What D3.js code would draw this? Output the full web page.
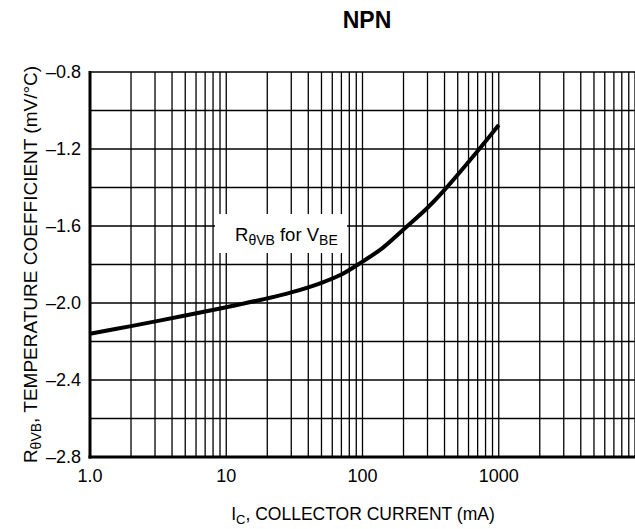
<!DOCTYPE html>
<html>
<head>
<meta charset="utf-8">
<script src="https://cdn.jsdelivr.net/npm/d3@7"></script>
<style>
  body { margin: 0; background: #fff; }
  svg text { font-family: 'Liberation Sans', Arial, sans-serif; fill: #000; }
</style>
</head>
<body>
<svg id="chart" width="635" height="529"></svg>
<script>
// values
const currentMa = [1, 2, 5, 10, 20, 30, 50, 70, 100, 140, 200, 300, 400, 700, 1000];
const tempCoeff = [-2.16, -2.12, -2.065, -2.022, -1.976, -1.945, -1.895, -1.852, -1.785, -1.715, -1.618, -1.505, -1.412, -1.21, -1.075];
const xTickValues = [1, 10, 100, 1000];
const xTickLabels = ['1.0', '10', '100', '1000'];
const yTickValues = [-2.8, -2.4, -2.0, -1.6, -1.2, -0.8];

const svg = d3.select('#chart');
const plotLeft = 90, plotRight = 635, plotTop = 72, plotBottom = 457;

let scaleX = d3.scaleLog().domain([1, 10000]).range([plotLeft, plotRight]);
let scaleY = d3.scaleLinear().domain([-2.8, -0.8]).range([plotBottom, plotTop]);

// grid: every 1..9 per decade, and every 0.2 vertically
let xGrid = [];
for (let dec = 1; dec < 10000; dec *= 10) {
  for (let m = 1; m < 10; m++) xGrid.push(dec * m);
}
xGrid.push(10000);
let yGrid = d3.range(0, 11).map(i => -2.8 + i * 0.2);

let grid = svg.append('g').attr('class', 'grid');
grid.selectAll('.vline')
  .data(xGrid)
  .enter().append('line')
  .attr('class', 'vline')
  .attr('x1', d => scaleX(d))
  .attr('x2', d => scaleX(d))
  .attr('y1', plotTop)
  .attr('y2', plotBottom)
  .attr('stroke', '#000')
  .attr('stroke-width', 1.3);
grid.selectAll('.hline')
  .data(yGrid)
  .enter().append('line')
  .attr('class', 'hline')
  .attr('x1', plotLeft)
  .attr('x2', plotRight)
  .attr('y1', d => scaleY(d))
  .attr('y2', d => scaleY(d))
  .attr('stroke', '#000')
  .attr('stroke-width', 1.3);

// heavy left / bottom axis
svg.append('line')
  .attr('x1', plotLeft).attr('x2', plotLeft)
  .attr('y1', plotTop - 1).attr('y2', plotBottom + 1.5)
  .attr('stroke', '#000').attr('stroke-width', 3);
svg.append('line')
  .attr('x1', plotLeft - 1.5).attr('x2', plotRight)
  .attr('y1', plotBottom).attr('y2', plotBottom)
  .attr('stroke', '#000').attr('stroke-width', 3);

// curve
let line = d3.line()
  .x((d, i) => scaleX(currentMa[i]))
  .y(d => scaleY(d))
  .curve(d3.curveCatmullRom.alpha(0.5));
svg.append('path')
  .datum(tempCoeff)
  .attr('d', line)
  .attr('fill', 'none')
  .attr('stroke', '#000')
  .attr('stroke-width', 4)
  .attr('stroke-linecap', 'butt');

// curve label with white box
svg.append('rect')
  .attr('x', 215).attr('y', 214)
  .attr('width', 132).attr('height', 39)
  .attr('fill', '#fff');
let lbl = svg.append('text')
  .attr('x', 235).attr('y', 241)
  .attr('font-size', 18.5);
lbl.append('tspan').text('R');
lbl.append('tspan').attr('font-size', 14).attr('dy', 4).text('θVB');
lbl.append('tspan').attr('dy', -4).text(' for V');
lbl.append('tspan').attr('font-size', 14).attr('dy', 4).text('BE');

// tick labels
svg.selectAll('.xtick')
  .data(xTickValues)
  .enter().append('text')
  .attr('class', 'xtick')
  .attr('x', d => scaleX(d))
  .attr('y', 482)
  .attr('text-anchor', 'middle')
  .attr('font-size', 18)
  .text((d, i) => xTickLabels[i]);
svg.selectAll('.ytick')
  .data(yTickValues)
  .enter().append('text')
  .attr('class', 'ytick')
  .attr('x', 81)
  .attr('y', d => scaleY(d) + 6)
  .attr('text-anchor', 'end')
  .attr('font-size', 18)
  .text(d => '\u2013' + Math.abs(d).toFixed(1));

// axis titles
let xt = svg.append('text')
  .attr('x', 363).attr('y', 520)
  .attr('text-anchor', 'middle')
  .attr('font-size', 17.5);
xt.append('tspan').text('I');
xt.append('tspan').attr('font-size', 13).attr('dy', 4).text('C');
xt.append('tspan').attr('dy', -4).text(', COLLECTOR CURRENT (mA)');

let yt = svg.append('text')
  .attr('transform', `translate(37, ${(plotTop + plotBottom) / 2}) rotate(-90)`)
  .attr('text-anchor', 'middle')
  .attr('font-size', 19);
yt.append('tspan').text('R');
yt.append('tspan').attr('font-size', 14).attr('dy', 4).text('θVB');
yt.append('tspan').attr('dy', -4).text(', TEMPERATURE COEFFICIENT (mV/°C)');

// title
svg.append('text')
  .attr('x', 367).attr('y', 28)
  .attr('text-anchor', 'middle')
  .attr('font-size', 23)
  .attr('font-weight', 'bold')
  .text('NPN');
</script>
</body>
</html>
